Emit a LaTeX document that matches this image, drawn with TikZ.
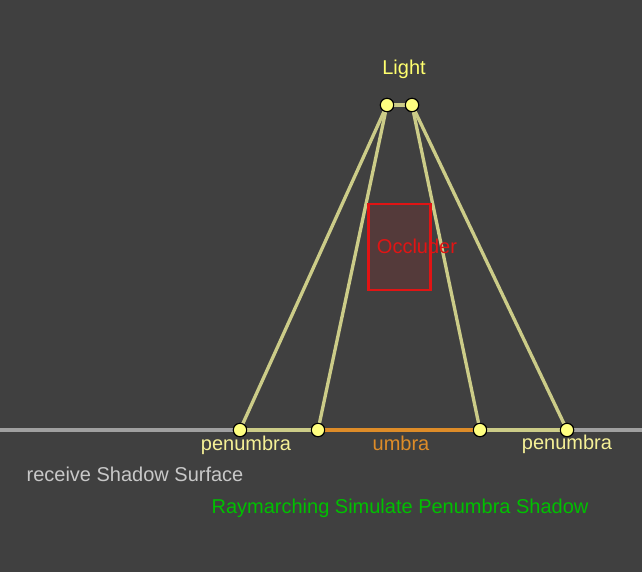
\documentclass[tikz,border=0pt]{standalone}
\usepackage{fontspec}
\setmainfont{Liberation Sans}

\definecolor{bgcol}{RGB}{64,64,64}
\definecolor{raycol}{RGB}{204,204,136}
\definecolor{dotcol}{RGB}{255,255,128}
\definecolor{lightcol}{RGB}{255,255,110}
\definecolor{pencol}{RGB}{245,240,150}
\definecolor{umbcol}{RGB}{222,140,40}
\definecolor{groundcol}{RGB}{160,160,160}
\definecolor{surfcol}{RGB}{200,200,200}
\definecolor{occcol}{RGB}{225,20,20}
\definecolor{occfill}{RGB}{84,58,58}
\definecolor{txtgreen}{RGB}{0,192,0}

\begin{document}
\begin{tikzpicture}[x=0.75pt,y=-0.75pt]
   \tikzstyle{every node}=[font=\fontsize{15}{17}\selectfont]
   \tikzstyle{pt}=[circle,draw=black,line width=0.8pt,fill=dotcol,inner sep=0pt,minimum size=10pt]
   \tikzstyle{ray}=[raycol,line width=2.5pt]

   \fill [bgcol] (0,0) rectangle (642,572) ;
   \useasboundingbox (0,0) rectangle (642,572) ;

   % receiving surface
   \coordinate (gl) at (0,430) ;
   \coordinate (gr) at (642,430) ;
   \draw [groundcol,line width=2.5pt] (gl) -- (gr) ;

   % light and ground points
   \node (l1) [pt] at (387,105) {} ;
   \node (l2) [pt] at (412,105) {} ;
   \node (p1) [pt] at (240,430) {} ;
   \node (u1) [pt] at (318,430) {} ;
   \node (u2) [pt] at (480,430) {} ;
   \node (p2) [pt] at (567,430) {} ;

   \draw [ray] (l1) -- (l2) ;
   \draw [ray] (l1) -- (p1) ;
   \draw [ray] (l1) -- (u1) ;
   \draw [ray] (l2) -- (u2) ;
   \draw [ray] (l2) -- (p2) ;

   \draw [ray] (p1) -- (u1) ;
   \draw [umbcol,line width=2.5pt] (u1) -- (u2) ;
   \draw [ray] (u2) -- (p2) ;

   % occluder
   \node (occ) [draw=occcol,line width=2.2pt,fill=occfill,minimum width=47pt,minimum height=64.5pt,inner sep=0pt] at (399.5,247) {} ;
   \node (occt) [text=occcol] at (417,246.5) {Occluder} ;

   % redraw dots on top
   \foreach \p in {l1,l2,p1,u1,u2,p2}
      \node [pt] at (\p) {} ;

   \node (lt) [text=lightcol] at (404,69) {Light} ;
   \node (pen1) [text=pencol] at (246,445) {penumbra} ;
   \node (umb) [text=umbcol] at (401,443) {umbra} ;
   \node (pen2) [text=pencol] at (567,444) {penumbra} ;
   \node (surf) [text=surfcol] at (135,474) {receive Shadow Surface} ;
   \node (ttl) [text=txtgreen] at (400,508.5) {Raymarching Simulate Penumbra Shadow} ;

\end{tikzpicture}
\end{document}
